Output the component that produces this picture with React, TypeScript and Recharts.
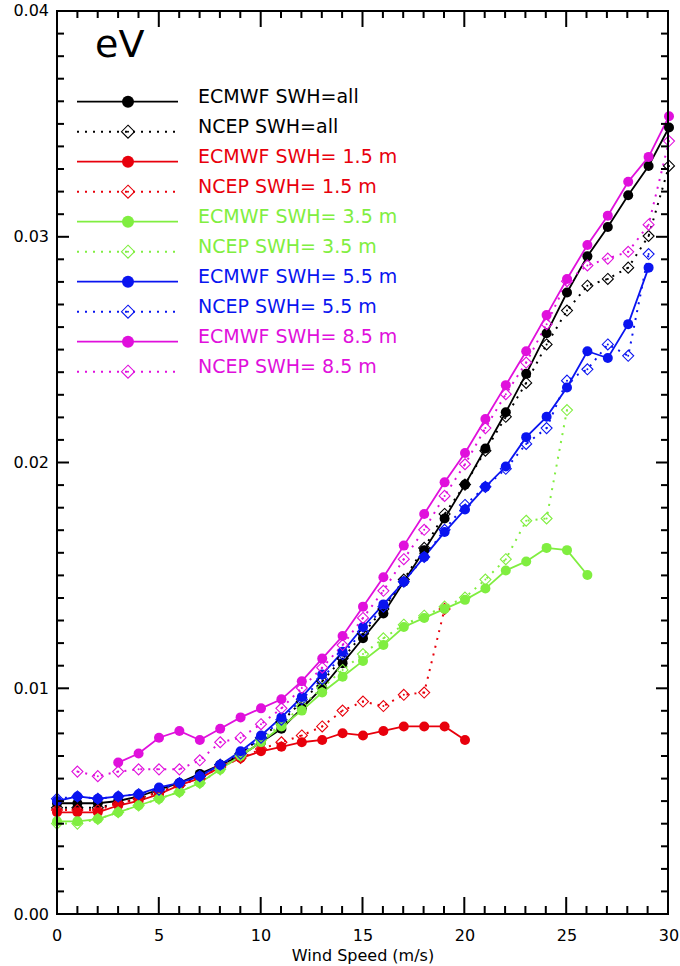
import React from 'react';
import { LineChart, Line, XAxis, YAxis, Legend } from 'recharts';

// wind speed bins (m/s)
const windSpeed = [
  0, 1, 2, 3, 4, 5, 6, 7, 8, 9, 10, 11, 12, 13, 14, 15,
  16, 17, 18, 19, 20, 21, 22, 23, 24, 25, 26, 27, 28, 29, 30,
];

// eV per wind speed bin; missing bins at the end are simply left off
const ecmwfAll = [
  0.0049, 0.0049, 0.0049, 0.005, 0.0052, 0.0055, 0.0058, 0.0062, 0.0066, 0.007, 0.0076,
  0.0082, 0.0091, 0.01, 0.0111, 0.0122, 0.0133, 0.0147, 0.0161, 0.0175, 0.019,
  0.0206, 0.0222, 0.0239, 0.0257, 0.0275, 0.0291, 0.0304, 0.0318, 0.0331, 0.0348,
];
const ncepAll = [
  0.0047, 0.0047, 0.0047, 0.0049, 0.0051, 0.0054, 0.0057, 0.0061, 0.0066, 0.0071, 0.0078,
  0.0085, 0.0094, 0.0103, 0.0113, 0.0124, 0.0135, 0.0148, 0.0162, 0.0177, 0.019,
  0.0205, 0.022, 0.0235, 0.0252, 0.0267, 0.0278, 0.0281, 0.0286, 0.03, 0.0331,
];
const ecmwf15 = [
  0.0045, 0.0045, 0.0045, 0.0048, 0.005, 0.0053, 0.0057, 0.006, 0.0065, 0.0069, 0.0072,
  0.0074, 0.0076, 0.0077, 0.008, 0.0079, 0.0081, 0.0083, 0.0083, 0.0083, 0.0077,
];
const ncep15 = [
  0.0046, 0.0046, 0.0046, 0.0049, 0.0051, 0.0054, 0.0057, 0.006, 0.0065, 0.0069, 0.0073,
  0.0076, 0.0079, 0.0083, 0.009, 0.0094, 0.0092, 0.0097, 0.0098, 0.0135,
];
const ecmwf35 = [
  0.0041, 0.0041, 0.0042, 0.0045, 0.0048, 0.0051, 0.0054, 0.0058, 0.0064, 0.007, 0.0076,
  0.0083, 0.009, 0.0098, 0.0105, 0.0112, 0.0119, 0.0127, 0.0131, 0.0135, 0.0139,
  0.0144, 0.0152, 0.0156, 0.0162, 0.0161, 0.015,
];
const ncep35 = [
  0.004, 0.004, 0.0042, 0.0045, 0.0048, 0.0051, 0.0054, 0.0058, 0.0064, 0.007, 0.0077,
  0.0084, 0.0092, 0.01, 0.0108, 0.0115, 0.0122, 0.0128, 0.0132, 0.0136, 0.014,
  0.0148, 0.0157, 0.0174, 0.0175, 0.0223,
];
const ecmwf55 = [
  0.005, 0.0052, 0.0051, 0.0052, 0.0053, 0.0056, 0.0058, 0.0061, 0.0066, 0.0072, 0.0079,
  0.0087, 0.0096, 0.0106, 0.0116, 0.0127, 0.0137, 0.0147, 0.0158, 0.0169, 0.0179,
  0.0189, 0.0198, 0.0211, 0.022, 0.0233, 0.0249, 0.0246, 0.0261, 0.0286,
];
const ncep55 = [
  0.0051, 0.0052, 0.0051, 0.0052, 0.0053, 0.0055, 0.0058, 0.0061, 0.0066, 0.0071, 0.0078,
  0.0086, 0.0095, 0.0104, 0.0115, 0.0125, 0.0136, 0.0147, 0.0158, 0.017, 0.0181,
  0.0189, 0.0197, 0.0208, 0.0215, 0.0236, 0.0241, 0.0252, 0.0247, 0.0292,
];
const ecmwf85 = [
  null, null, null, 0.0067, 0.0071, 0.0078, 0.0081, 0.0077, 0.0082, 0.0087, 0.0091,
  0.0095, 0.0103, 0.0113, 0.0123, 0.0136, 0.0149, 0.0163, 0.0177, 0.0191, 0.0204,
  0.0219, 0.0234, 0.0249, 0.0265, 0.0281, 0.0296, 0.0309, 0.0324, 0.0335, 0.0353,
];
const ncep85 = [
  null, 0.0063, 0.0061, 0.0063, 0.0064, 0.0064, 0.0064, 0.0068, 0.0076, 0.0078, 0.0084,
  0.0091, 0.01, 0.0109, 0.0119, 0.0131, 0.0143, 0.0157, 0.017, 0.0185, 0.0199,
  0.0215, 0.023, 0.0244, 0.0261, 0.028, 0.0287, 0.029, 0.0293, 0.0305, 0.0342,
];

const xMajorTicks = [0, 5, 10, 15, 20, 25, 30];
const yMajorTicks = [0, 0.01, 0.02, 0.03, 0.04];
const yTickLabels = ['0.00', '0.01', '0.02', '0.03', '0.04'];

const X_MIN = 0;
const X_MAX = 30;
const Y_MIN = 0;
const Y_MAX = 0.04;

const CHART_W = 680;
const CHART_H = 966;
const MARGIN = { top: 10, right: 11, bottom: 51, left: 56 };
const AXIS_SIZE = 1;

// plot box, same as what recharts lays out from the margins and axis sizes
const PLOT = {
  left: MARGIN.left + AXIS_SIZE,
  top: MARGIN.top + AXIS_SIZE,
  right: CHART_W - MARGIN.right - AXIS_SIZE,
  bottom: CHART_H - MARGIN.bottom - AXIS_SIZE,
};

const TICK_W = 2;

const BLACK = '#000000';
const RED = '#e8000c';
const GREEN = '#80ee40';
const BLUE = '#0a14f0';
const MAGENTA = '#e010dc';

const FONT = '"DejaVu Sans", Verdana, sans-serif';

type Series = {
  key: string;
  label: string;
  color: string;
  model: 'ECMWF' | 'NCEP';
  values: (number | null)[];
};

const series: Series[] = [
  { key: 'ecAll', label: 'ECMWF SWH=all', color: BLACK, model: 'ECMWF', values: ecmwfAll },
  { key: 'ncAll', label: 'NCEP SWH=all', color: BLACK, model: 'NCEP', values: ncepAll },
  { key: 'ec15', label: 'ECMWF SWH= 1.5 m', color: RED, model: 'ECMWF', values: ecmwf15 },
  { key: 'nc15', label: 'NCEP SWH= 1.5 m', color: RED, model: 'NCEP', values: ncep15 },
  { key: 'ec35', label: 'ECMWF SWH= 3.5 m', color: GREEN, model: 'ECMWF', values: ecmwf35 },
  { key: 'nc35', label: 'NCEP SWH= 3.5 m', color: GREEN, model: 'NCEP', values: ncep35 },
  { key: 'ec55', label: 'ECMWF SWH= 5.5 m', color: BLUE, model: 'ECMWF', values: ecmwf55 },
  { key: 'nc55', label: 'NCEP SWH= 5.5 m', color: BLUE, model: 'NCEP', values: ncep55 },
  { key: 'ec85', label: 'ECMWF SWH= 8.5 m', color: MAGENTA, model: 'ECMWF', values: ecmwf85 },
  { key: 'nc85', label: 'NCEP SWH= 8.5 m', color: MAGENTA, model: 'NCEP', values: ncep85 },
];

const data = windSpeed.map((ws, i) => {
  const row: Record<string, number | null> = { ws };
  series.forEach((s) => {
    row[s.key] = s.values[i] ?? null;
  });
  return row;
});

const xAllTicks = windSpeed;
const yAllTicks = Array.from({ length: 41 }, (_, i) => Math.round(i * 10) / 10000);

const isYMajor = (v: number) => Math.round(v * 1000) % 10 === 0;

const DOTTED = '2 6';

function circleDot(color: string, r = 5) {
  return (props: any) => {
    const { cx, cy, index } = props;
    if (cx == null || cy == null || props.value == null) return <g key={`c-${index}`} />;
    return <circle key={`c-${index}`} cx={cx} cy={cy} r={r} fill={color} stroke="none" />;
  };
}

function diamondDot(color: string, s = 5.5) {
  return (props: any) => {
    const { cx, cy, index } = props;
    if (cx == null || cy == null || props.value == null) return <g key={`d-${index}`} />;
    return (
      <g key={`d-${index}`}>
        <polygon
          points={`${cx},${cy - s} ${cx + s},${cy} ${cx},${cy + s} ${cx - s},${cy}`}
          fill="none"
          stroke={color}
          strokeWidth={1.1}
        />
        <circle cx={cx} cy={cy} r={1} fill={color} />
      </g>
    );
  };
}

const renderBottomLabel = (props: any) => {
  const { x, y, payload, index } = props;
  const v = payload.value;
  if (!xMajorTicks.includes(v)) return <g key={`bl-${index}`} />;
  return (
    <text key={`bl-${index}`} x={x} y={y + 27} textAnchor="middle" fontSize={16} fontFamily={FONT} fill="#000">
      {v}
    </text>
  );
};

const renderLeftLabel = (props: any) => {
  const { x, y, payload, index } = props;
  const idx = yMajorTicks.findIndex((t) => Math.abs(t - payload.value) < 1e-9);
  if (idx < 0) return <g key={`ll-${index}`} />;
  return (
    <text key={`ll-${index}`} x={x - 8} y={y + 6} textAnchor="end" fontSize={16} fontFamily={FONT} fill="#000">
      {yTickLabels[idx]}
    </text>
  );
};

function AxisTitle({ viewBox }: any) {
  const { x, y, width } = viewBox;
  return (
    <text x={x + width / 2} y={y + 47} textAnchor="middle" fontSize={16} fontFamily={FONT} fill="#000">
      Wind Speed (m/s)
    </text>
  );
}

// legend block in the upper left corner, with the unit title above it
function LegendBlock() {
  const rowY0 = 101.7;
  const rowGap = 30;
  return (
    <svg width={470} height={400} style={{ overflow: 'visible' }}>
      <text x={95} y={57} fontSize={38} fontFamily={FONT} fill="#000">
        eV
      </text>
      {series.map((s, i) => {
        const y = rowY0 + i * rowGap;
        const ecmwf = s.model === 'ECMWF';
        return (
          <g key={s.key}>
            <line
              x1={77}
              y1={y}
              x2={178}
              y2={y}
              stroke={s.color}
              strokeWidth={ecmwf ? 1.8 : 2}
              strokeDasharray={ecmwf ? undefined : DOTTED}
            />
            {ecmwf
              ? circleDot(s.color, 6)({ cx: 128, cy: y, value: 1, index: i })
              : diamondDot(s.color, 6.5)({ cx: 128, cy: y, value: 1, index: i })}
            <text x={198} y={y + 1.5} fontSize={19} fontFamily={FONT} fill={s.color}>
              {s.label}
            </text>
          </g>
        );
      })}
    </svg>
  );
}

// box frame and inward tick marks on all four sides, laid over the chart
function AxisFrame() {
  const w = PLOT.right - PLOT.left;
  const h = PLOT.bottom - PLOT.top;
  const sx = (v: number) => PLOT.left + ((v - X_MIN) / (X_MAX - X_MIN)) * w;
  const sy = (v: number) => PLOT.bottom - ((v - Y_MIN) / (Y_MAX - Y_MIN)) * h;
  const marks: React.ReactNode[] = [];
  xAllTicks.forEach((v) => {
    const major = xMajorTicks.includes(v);
    const x = Math.round(sx(v) * 10) / 10;
    const lb = major ? 17 : 8;
    const lt = major ? 16 : 7;
    marks.push(<rect key={`xb${v}`} x={x - TICK_W / 2} y={PLOT.bottom - lb} width={TICK_W} height={lb} fill="#000" />);
    marks.push(<rect key={`xt${v}`} x={x - TICK_W / 2} y={PLOT.top} width={TICK_W} height={lt} fill="#000" />);
  });
  yAllTicks.forEach((v, i) => {
    const major = isYMajor(v);
    const y = Math.round(sy(v) * 10) / 10;
    const l = major ? 12 : 7;
    marks.push(<rect key={`yl${i}`} x={PLOT.left} y={y - TICK_W / 2} width={l} height={TICK_W} fill="#000" />);
    marks.push(<rect key={`yr${i}`} x={PLOT.right - l} y={y - TICK_W / 2} width={l} height={TICK_W} fill="#000" />);
  });
  return (
    <svg
      width={CHART_W}
      height={CHART_H}
      style={{ position: 'absolute', left: 0, top: 0, pointerEvents: 'none' }}
    >
      {marks}
      <rect x={PLOT.left} y={PLOT.top} width={w} height={h} stroke="#000" strokeWidth={2} fill="none" />
    </svg>
  );
}

const axisLine = { stroke: '#000', strokeWidth: 2 };

export default function App() {
  return (
    <div style={{ position: 'absolute', left: 0, top: 0, width: CHART_W, height: CHART_H, background: '#fff' }}>
      <LineChart width={CHART_W} height={CHART_H} data={data} margin={MARGIN}>
        <XAxis
          dataKey="ws"
          type="number"
          domain={[X_MIN, X_MAX]}
          ticks={xAllTicks}
          interval={0}
          height={AXIS_SIZE}
          tickSize={0}
          tickMargin={0}
          tick={renderBottomLabel}
          tickLine={false}
          axisLine={axisLine}
          label={<AxisTitle />}
        />
        <YAxis
          type="number"
          domain={[Y_MIN, Y_MAX]}
          ticks={yAllTicks}
          interval={0}
          width={AXIS_SIZE}
          tickSize={0}
          tickMargin={0}
          tick={renderLeftLabel}
          tickLine={false}
          axisLine={axisLine}
        />
        <Legend
          layout="vertical"
          align="center"
          verticalAlign="middle"
          wrapperStyle={{ left: 0, top: 0, width: 470, height: 400 }}
          content={() => <LegendBlock />}
        />
        {series.map((s) =>
          s.model === 'ECMWF' ? (
            <Line
              key={s.key}
              dataKey={s.key}
              stroke={s.color}
              strokeWidth={1.8}
              dot={circleDot(s.color)}
              activeDot={false}
              connectNulls={false}
              isAnimationActive={false}
              type="linear"
            />
          ) : (
            <Line
              key={s.key}
              dataKey={s.key}
              stroke={s.color}
              strokeWidth={2}
              strokeDasharray={DOTTED}
              dot={diamondDot(s.color)}
              activeDot={false}
              connectNulls={false}
              isAnimationActive={false}
              type="linear"
            />
          ),
        )}
      </LineChart>
      <AxisFrame />
    </div>
  );
}
